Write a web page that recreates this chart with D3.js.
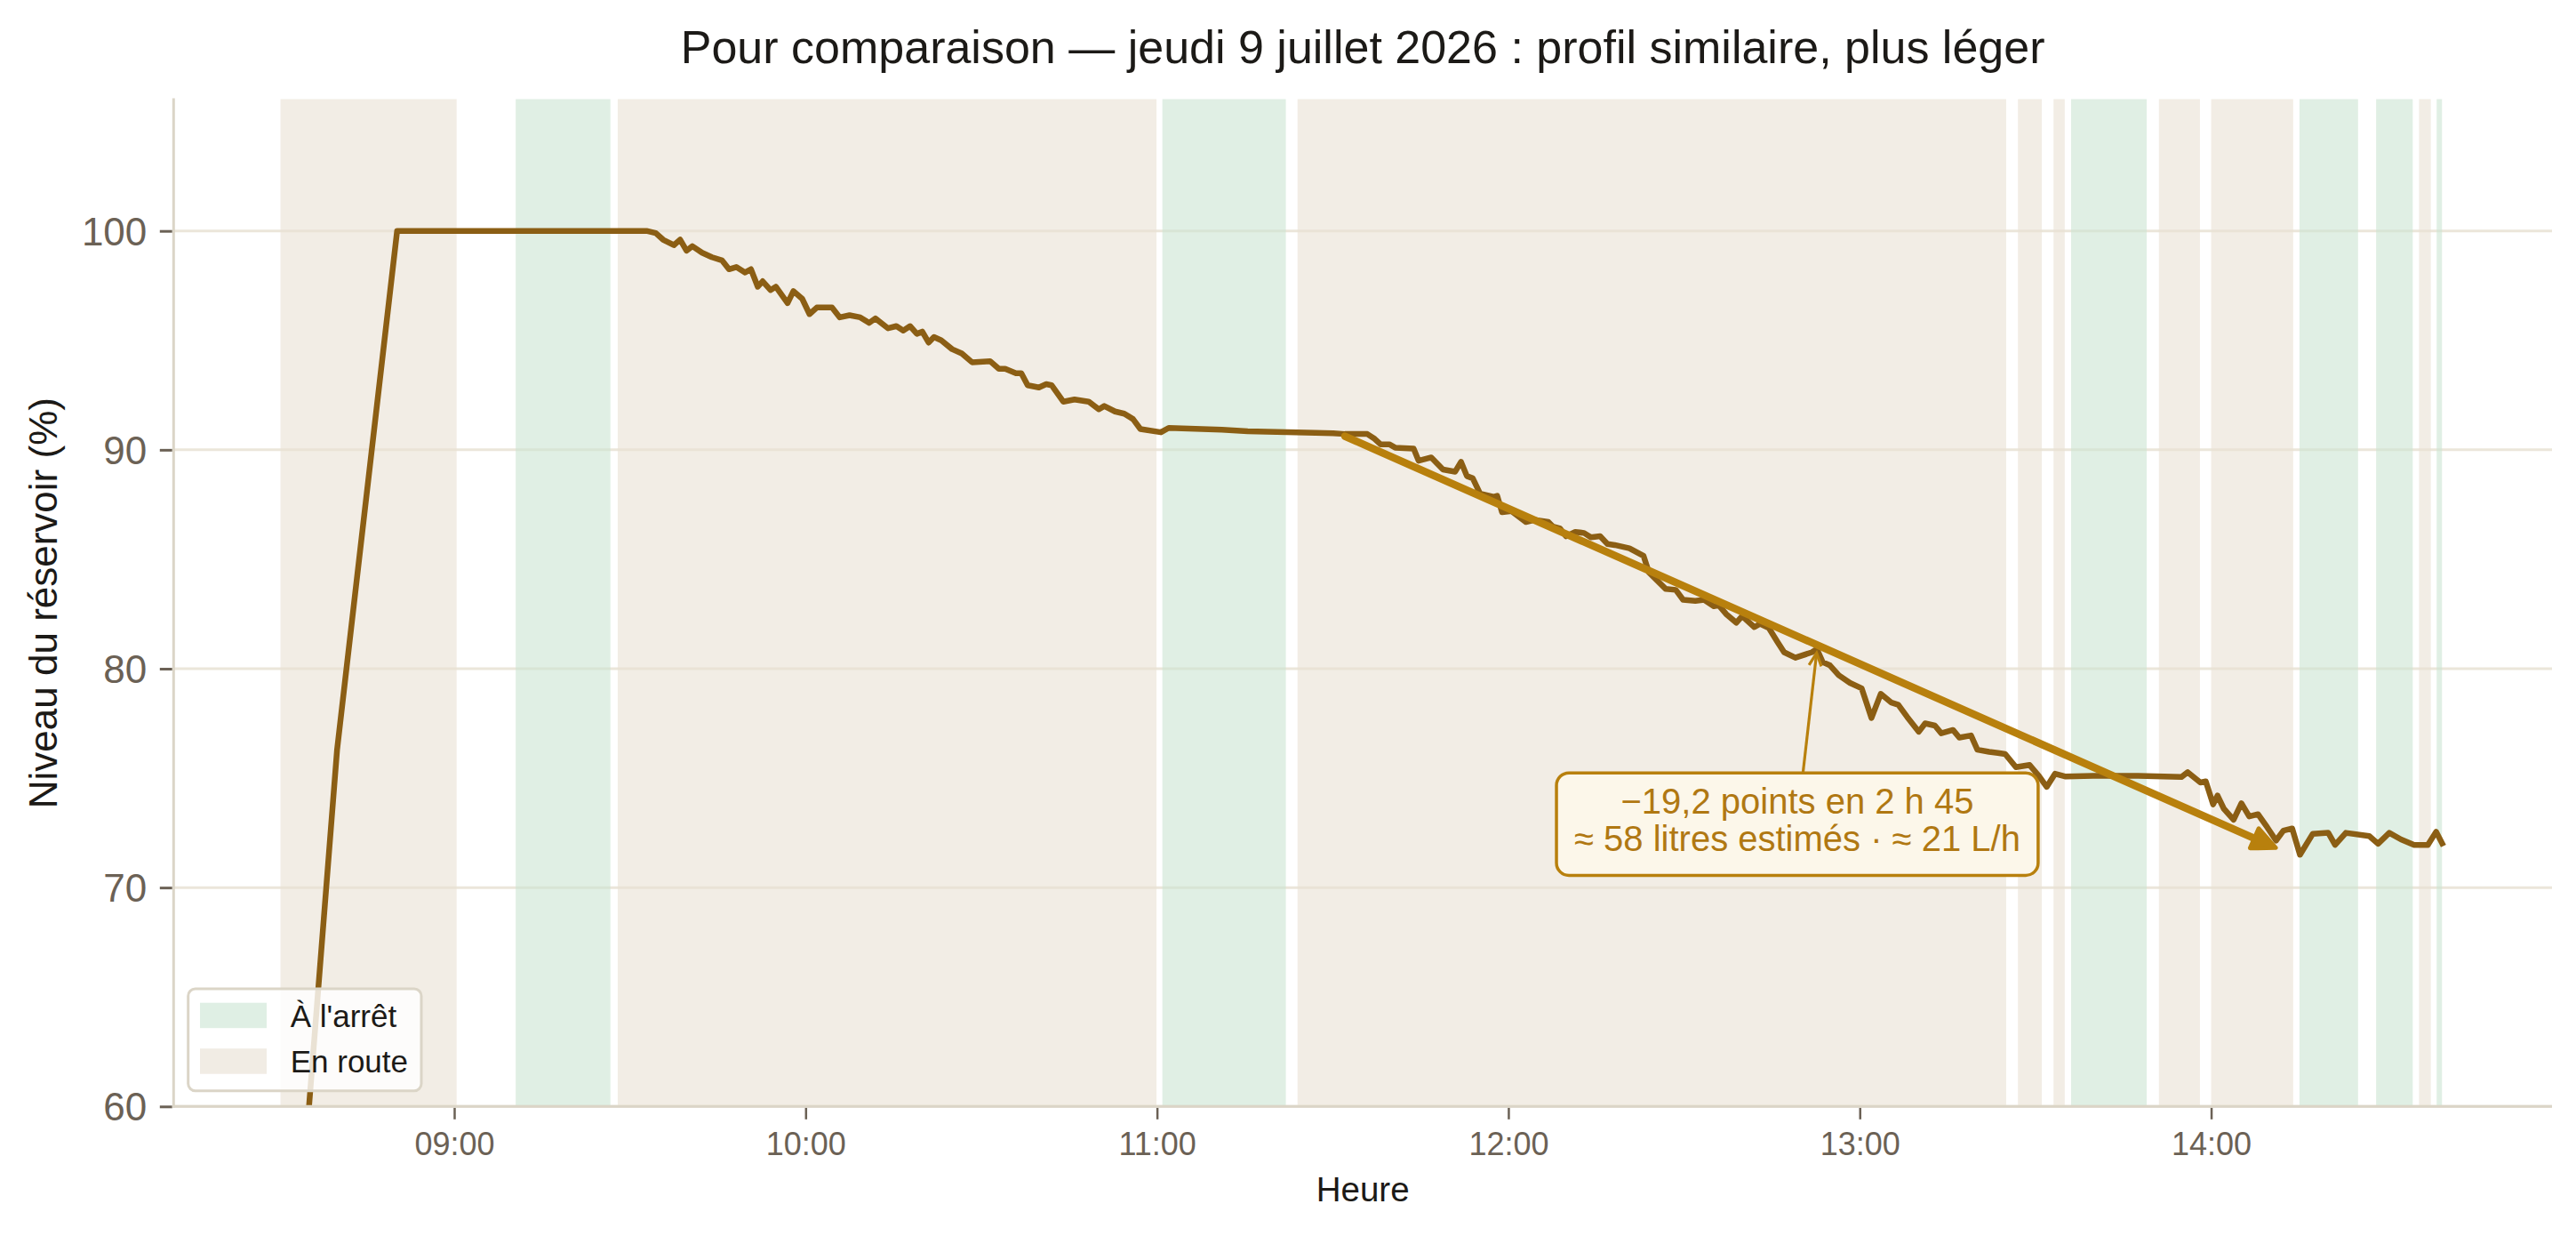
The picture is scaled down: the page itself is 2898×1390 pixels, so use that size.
<!DOCTYPE html>
<html><head><meta charset="utf-8">
<script src="https://cdn.jsdelivr.net/npm/d3@7"></script>
<style>
body{margin:0;background:#fff;}
svg{display:block;font-family:"Liberation Sans",Arial,Helvetica,sans-serif;}
</style>
</head><body>
<svg id="chart" width="2898" height="1390"></svg>
<script>
// ---------------- DATA ----------------
const title = "Pour comparaison — jeudi 9 juillet 2026 : profil similaire, plus léger";
const xLabel = "Heure";
const yLabel = "Niveau du réservoir (%)";

const times = [
"08:30:30","08:40:00","08:50:15","09:32:50","09:34:25","09:35:40","09:37:30","09:38:35","09:39:40","09:40:40",
"09:42:20","09:44:00","09:45:45","09:46:55","09:48:10","09:49:40","09:50:40","09:51:50","09:52:40","09:54:00",
"09:54:55","09:56:55","09:57:55","09:59:25","10:00:40","10:01:55","10:04:30","10:05:50","10:07:30","10:09:20",
"10:10:50","10:11:55","10:14:05","10:15:30","10:16:40","10:17:50","10:19:00","10:19:55","10:21:00","10:21:55",
"10:23:10","10:25:00","10:26:40","10:28:25","10:31:30","10:33:00","10:34:05","10:35:55","10:36:50","10:37:55",
"10:39:50","10:41:05","10:42:00","10:44:00","10:45:55","10:48:20","10:50:05","10:51:00","10:52:50","10:54:25",
"10:55:55","10:57:10","11:00:40","11:02:00","11:11:05","11:15:30","11:27:05","11:30:05","11:32:05","11:35:55",
"11:37:10","11:38:10","11:39:40","11:40:40","11:43:50","11:44:40","11:46:50","11:48:50","11:50:55","11:51:55",
"11:52:55","11:53:55","11:55:10","11:57:25","11:58:05","11:58:55","12:00:30","12:03:00","12:04:30","12:06:50",
"12:07:35","12:08:50","12:09:50","12:11:25","12:12:55","12:14:05","12:15:40","12:16:55","12:18:10","12:20:40",
"12:23:05","12:24:00","12:26:50","12:28:35","12:29:50","12:31:55","12:33:25","12:35:05","12:35:55","12:37:10",
"12:38:55","12:39:55","12:42:00","12:43:00","12:44:30","12:46:00","12:47:05","12:49:00","12:51:50","12:52:40",
"12:53:40","12:54:55","12:56:25","12:58:20","13:00:20","13:02:00","13:03:35","13:05:25","13:06:35","13:08:05",
"13:10:05","13:11:10","13:12:50","13:13:55","13:15:55","13:17:00","13:19:00","13:20:05","13:22:05","13:23:35",
"13:24:50","13:26:40","13:29:00","13:30:35","13:31:55","13:33:20","13:35:10","13:39:50","13:47:30","13:54:55",
"13:56:00","13:58:10","13:59:05","14:00:20","14:01:05","14:02:10","14:03:50","14:05:10","14:06:30","14:08:00",
"14:09:35","14:11:05","14:12:20","14:13:50","14:15:10","14:17:20","14:20:00","14:21:10","14:23:00","14:27:00",
"14:28:30","14:30:25","14:32:25","14:34:40","14:37:00","14:38:25","14:39:40"
];
const levels = [
44.0,76.3,100.0,100.0,99.9,99.6,99.35,99.6,99.1,99.3,
99.0,98.8,98.65,98.25,98.35,98.1,98.25,97.45,97.7,97.3,
97.45,96.7,97.25,96.9,96.2,96.5,96.5,96.05,96.15,96.05,
95.8,96.0,95.55,95.65,95.45,95.65,95.3,95.4,94.9,95.15,
95.0,94.6,94.4,94.0,94.05,93.7,93.7,93.5,93.5,92.95,
92.85,93.0,92.95,92.2,92.3,92.2,91.85,92.0,91.75,91.65,
91.4,90.95,90.8,91.0,90.92,90.85,90.78,90.76,90.72,90.72,
90.5,90.25,90.25,90.1,90.05,89.5,89.65,89.1,89.0,89.45,
88.8,88.7,88.0,87.85,87.9,87.15,87.2,86.7,86.8,86.7,
86.5,86.4,86.05,86.25,86.2,86.0,86.05,85.7,85.65,85.5,
85.15,84.4,83.65,83.6,83.15,83.1,83.15,82.85,82.9,82.5,
82.1,82.4,81.9,82.05,81.85,81.2,80.75,80.5,80.75,80.9,
80.3,80.15,79.7,79.35,79.1,77.75,78.85,78.45,78.35,77.8,
77.12,77.5,77.4,77.05,77.2,76.85,76.95,76.3,76.2,76.15,
76.1,75.5,75.6,75.1,74.6,75.2,75.07,75.1,75.1,75.05,
75.27,74.8,74.85,73.8,74.2,73.6,73.1,73.85,73.25,73.35,
72.75,72.15,72.6,72.7,71.5,72.45,72.5,71.95,72.5,72.35,
72.0,72.5,72.2,71.95,71.95,72.55,71.9
];

const bandKinds  = ["route","stop","route","stop","route","route","route","stop","route","route","stop","stop","route","stop"];
const bandStarts = ["08:30:20","09:10:30","09:27:55","11:00:55","11:24:00","13:27:00","13:33:05","13:36:05","13:51:05","14:00:00","14:15:05","14:28:10","14:35:30","14:38:30"];
const bandEnds   = ["09:00:25","09:26:40","10:59:55","11:22:00","13:25:00","13:31:05","13:35:00","13:49:00","13:58:05","14:14:00","14:25:05","14:34:25","14:37:30","14:39:25"];

const legendKinds  = ["stop","route"];
const legendLabels = ["À l'arrêt","En route"];

const yTicks = [60,70,80,90,100];
const yDomain = [60,106];
const xTickTimes = ["09:00:00","10:00:00","11:00:00","12:00:00","13:00:00","14:00:00"];
const xDomainTimes = ["08:12:05","14:58:12"];

// trend arrow & annotation
const trendTimes  = ["11:32:05","14:11:00"];
const trendLevels = [90.62,71.82];
const annotTarget = {t:"12:52:40", v:80.8};
const annotCenter = {t:"12:49:20", v:72.9};
const annotLines  = ["−19,2 points en 2 h 45","≈ 58 litres estimés · ≈ 21 L/h"];

// ---------------- STYLE / LAYOUT ----------------
const W = 2898, H = 1390;
const M = {left:195.3, right:W-2871, top:112, bottom:H-1244.3};
const colors = {
  route:"#e9e1d4", stop:"#cbe4d2", line:"#8b5e14", trend:"#b8800d",
  annotText:"#b07812", boxFill:"#fcf7ea", grid:"#ebe6da", spine:"#dbd5c7",
  tick:"#6b6155", text:"#1c1a17"
};
const legendSolid = {route:"#f1ece4", stop:"#dfefe4"};

const parse = d3.timeParse("%H:%M:%S");
const data = times.map((t,i)=>({t:parse(t), v:levels[i]}));

const svg = d3.select("#chart");
const x = d3.scaleTime().domain(xDomainTimes.map(parse)).range([M.left, W-M.right]);
const y = d3.scaleLinear().domain(yDomain).range([H-M.bottom, M.top]);

// clip
svg.append("defs").append("clipPath").attr("id","plotclip")
  .append("rect").attr("x",M.left).attr("y",M.top)
  .attr("width",W-M.left-M.right).attr("height",H-M.top-M.bottom);

// gridlines
svg.append("g").selectAll("line").data(yTicks).join("line")
  .attr("x1",M.left).attr("x2",W-M.right)
  .attr("y1",d=>y(d)).attr("y2",d=>y(d))
  .attr("stroke",colors.grid).attr("stroke-width",3);

// bands
svg.append("g").selectAll("rect").data(bandKinds.map((k,i)=>({k, s:parse(bandStarts[i]), e:parse(bandEnds[i])})))
  .join("rect")
  .attr("x",d=>x(d.s)).attr("width",d=>x(d.e)-x(d.s))
  .attr("y",M.top-0.5).attr("height",H-M.bottom-M.top+0.5)
  .attr("fill",d=>colors[d.k]).attr("fill-opacity",0.6);

// data line
svg.append("path").datum(data)
  .attr("clip-path","url(#plotclip)")
  .attr("d",d3.line().x(d=>x(d.t)).y(d=>y(d.v)))
  .attr("fill","none").attr("stroke",colors.line).attr("stroke-width",6.5)
  .attr("stroke-linejoin","round").attr("stroke-linecap","butt");

// trend arrow
(function(){
  const x0 = x(parse(trendTimes[0])), y0 = y(trendLevels[0]);
  const x1 = x(parse(trendTimes[1])), y1 = y(trendLevels[1]);
  const ang = Math.atan2(y1-y0, x1-x0);
  const headL = 26, headW = 12;
  const bx = x1 - headL*Math.cos(ang), by = y1 - headL*Math.sin(ang);
  svg.append("line").attr("x1",x0).attr("y1",y0).attr("x2",bx).attr("y2",by)
    .attr("stroke",colors.trend).attr("stroke-width",8.5).attr("stroke-linecap","round");
  const px = -Math.sin(ang), py = Math.cos(ang);
  svg.append("path")
    .attr("d",`M${x1},${y1}L${bx+px*headW},${by+py*headW}L${bx-px*headW},${by-py*headW}Z`)
    .attr("fill",colors.trend).attr("stroke",colors.trend).attr("stroke-width",5).attr("stroke-linejoin","round");
})();

// annotation
(function(){
  const cx = x(parse(annotCenter.t)), cy = y(annotCenter.v);
  const tx = x(parse(annotTarget.t)), ty = y(annotTarget.v);
  const g = svg.append("g");
  const box = g.append("rect");
  const txt = g.append("text").attr("text-anchor","middle").attr("font-size",40).attr("fill",colors.annotText);
  annotLines.forEach((l,i)=>{
    txt.append("tspan").attr("x",cx).attr("y",cy-11.6+i*42).text(l);
  });
  const bb = txt.node().getBBox();
  const bw = bb.width + 40;
  const top = cy - 57.6, bh = 115.3;
  box.attr("x",cx-bw/2).attr("y",top).attr("width",bw).attr("height",bh)
    .attr("rx",14).attr("fill",colors.boxFill).attr("stroke",colors.trend).attr("stroke-width",3.5);
  const t = (cy-top)/(cy-ty);
  const sx = cx + (tx-cx)*t, sy = top-1;
  const ang = Math.atan2(ty-sy, tx-sx);
  const ex = tx - 2*Math.cos(ang), ey = ty - 2*Math.sin(ang);
  svg.append("line").attr("x1",sx).attr("y1",sy).attr("x2",ex).attr("y2",ey)
    .attr("stroke",colors.trend).attr("stroke-width",3.2);
  const hl = 16, ha = 0.45;
  svg.append("path")
    .attr("d",`M${ex-hl*Math.cos(ang-ha)},${ey-hl*Math.sin(ang-ha)}L${ex},${ey}L${ex-hl*Math.cos(ang+ha)},${ey-hl*Math.sin(ang+ha)}`)
    .attr("fill","none").attr("stroke",colors.trend).attr("stroke-width",3.2);
})();

// axes
const xAxis = svg.append("g").attr("transform",`translate(0,${H-M.bottom})`)
  .call(d3.axisBottom(x).tickValues(xTickTimes.map(parse)).tickFormat(d3.timeFormat("%H:%M"))
        .tickSize(13).tickPadding(16).tickSizeOuter(0));
xAxis.select(".domain").remove();
xAxis.selectAll(".tick line").attr("stroke",colors.tick).attr("stroke-width",2.5).attr("transform","translate(0,1.5)");
xAxis.selectAll(".tick text").attr("fill",colors.tick).attr("font-size",36)
  .attr("font-family",'"Liberation Sans",Arial,sans-serif');

const yAxis = svg.append("g").attr("transform",`translate(${M.left},0)`)
  .call(d3.axisLeft(y).tickValues(yTicks).tickFormat(d3.format("d")).tickSize(14).tickPadding(16).tickSizeOuter(0));
yAxis.select(".domain").remove();
yAxis.selectAll(".tick line").attr("stroke",colors.tick).attr("stroke-width",3).attr("transform","translate(-1.5,0)");
yAxis.selectAll(".tick text").attr("fill",colors.tick).attr("font-size",44)
  .attr("font-family",'"Liberation Sans",Arial,sans-serif').attr("dy","0.35em");

// spines
svg.append("line").attr("x1",M.left).attr("x2",M.left).attr("y1",M.top-1.5).attr("y2",H-M.bottom+1.5)
  .attr("stroke",colors.spine).attr("stroke-width",3);
svg.append("line").attr("x1",M.left-1.5).attr("x2",W-M.right).attr("y1",H-M.bottom).attr("y2",H-M.bottom)
  .attr("stroke",colors.spine).attr("stroke-width",3);

// legend
(function(){
  const lg = svg.append("g");
  lg.append("rect").attr("x",211.7).attr("y",1112).attr("width",262.3).attr("height",114.7)
    .attr("rx",8).attr("fill","#ffffff").attr("fill-opacity",0.82)
    .attr("stroke",colors.spine).attr("stroke-width",3);
  legendKinds.forEach((k,i)=>{
    lg.append("rect").attr("x",225).attr("y",1127.7+i*51.5).attr("width",75).attr("height",28.5)
      .attr("fill",legendSolid[k]);
    lg.append("text").attr("x",326.7).attr("y",1155+i*50.7).attr("font-size",35)
      .attr("fill",colors.text).text(legendLabels[i]);
  });
})();

// titles
svg.append("text").attr("x",(M.left+W-M.right)/2).attr("y",71).attr("text-anchor","middle")
  .attr("font-size",52).attr("fill",colors.text).text(title);
svg.append("text").attr("x",(M.left+W-M.right)/2).attr("y",1351).attr("text-anchor","middle")
  .attr("font-size",38.5).attr("fill",colors.text).text(xLabel);
svg.append("text").attr("transform",`translate(64,${(M.top+H-M.bottom)/2}) rotate(-90)`).attr("text-anchor","middle")
  .attr("font-size",44).attr("fill",colors.text).text(yLabel);
</script>
</body></html>
